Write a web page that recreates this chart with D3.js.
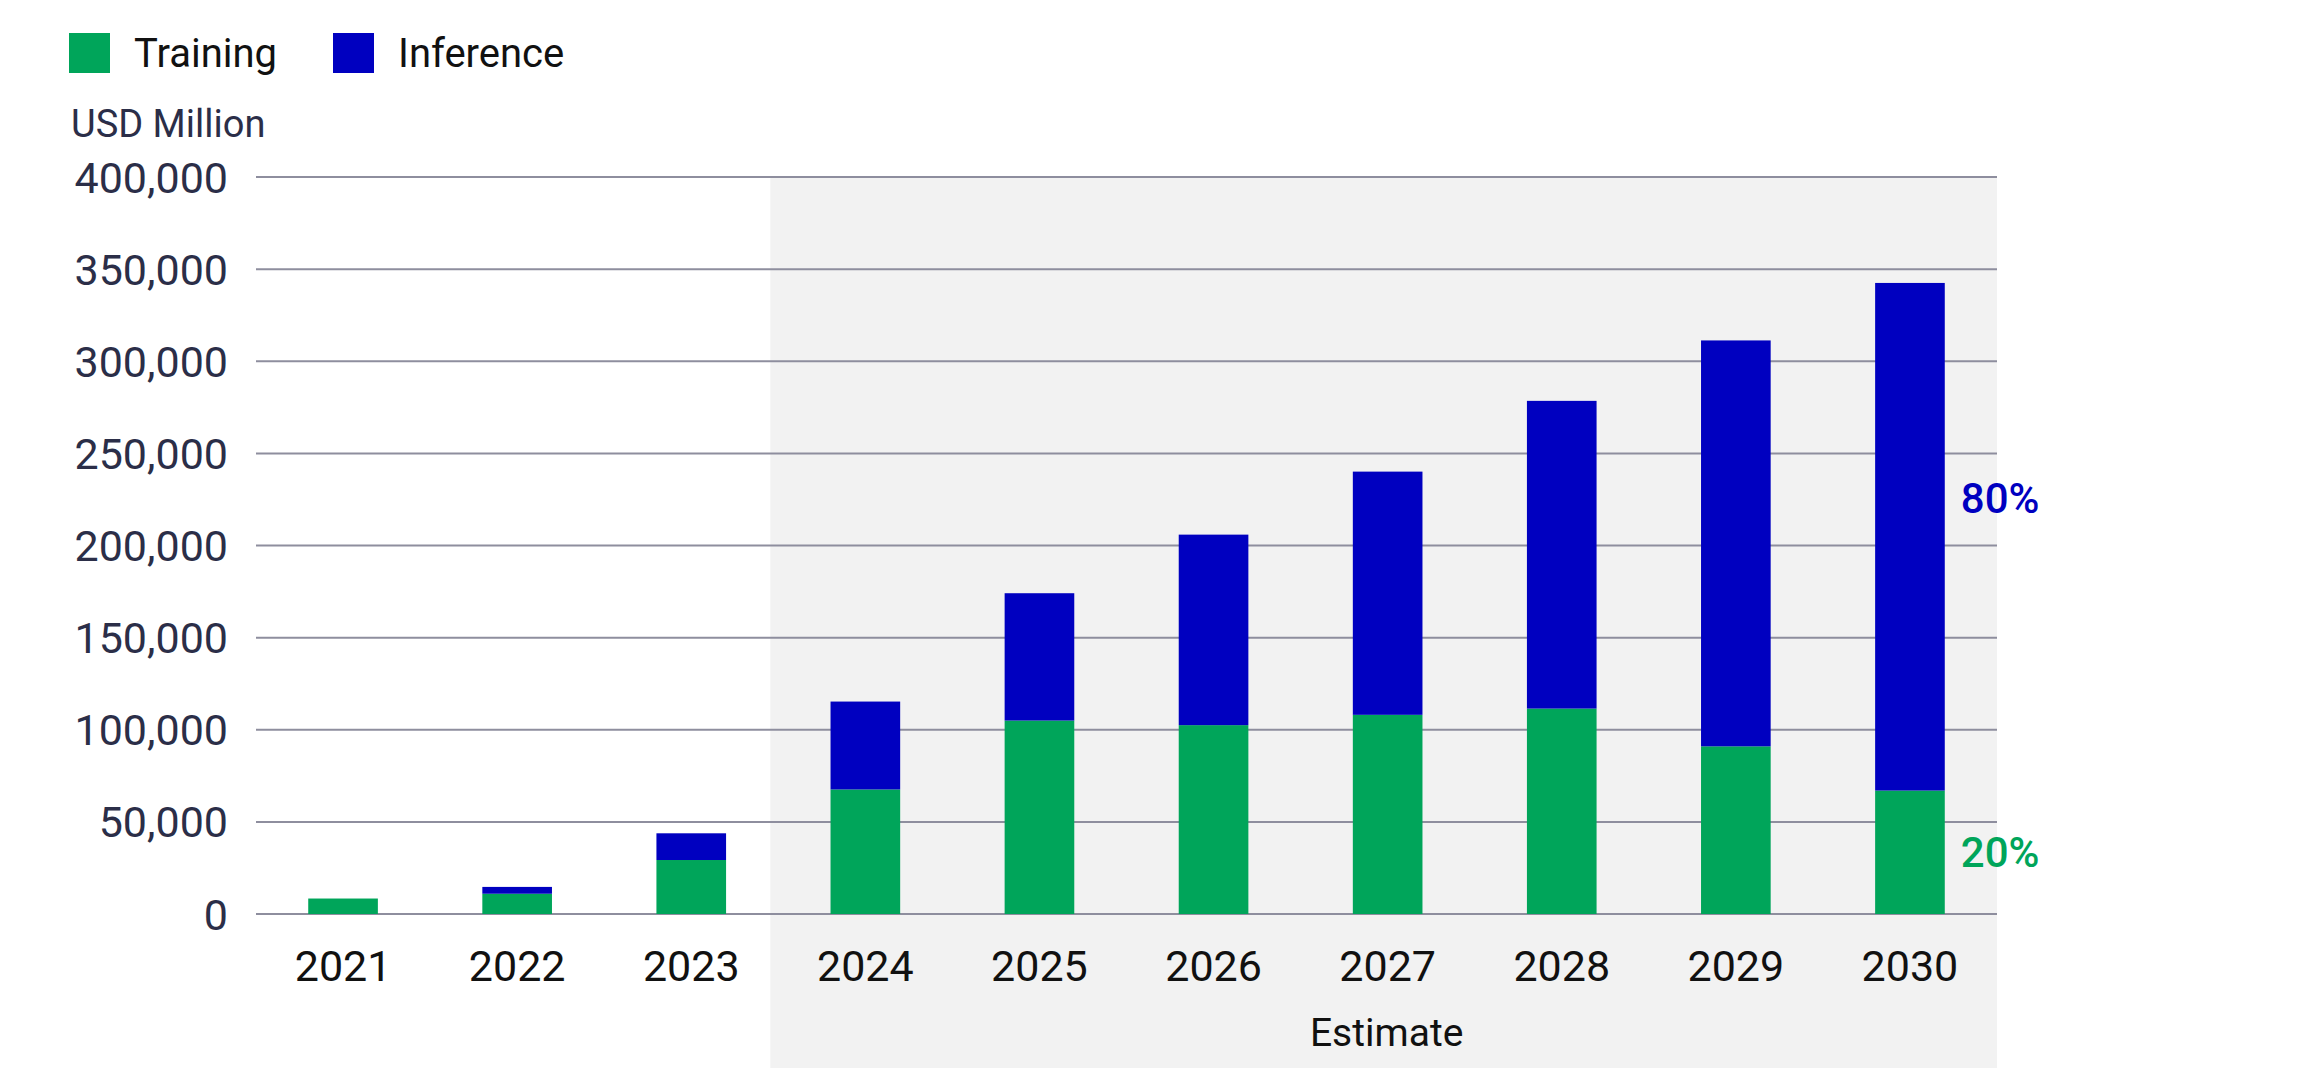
<!DOCTYPE html>
<html>
<head>
<meta charset="utf-8">
<script src="https://cdn.jsdelivr.net/npm/d3@7"></script>
<style>
html,body{margin:0;padding:0;background:#fff;}
svg{display:block;font-family:Roboto,"Noto Sans",sans-serif;}
</style>
</head>
<body>
<svg id="chart" width="2297" height="1083"></svg>
<script>
const years = ["2021","2022","2023","2024","2025","2026","2027","2028","2029","2030"];
const training = [8400, 11000, 29300, 67600, 105000, 102500, 108100, 111500, 91000, 67000];
const inference = [0, 3700, 14500, 47700, 69100, 103400, 132000, 167000, 220300, 275500];
const yTicks = [0, 50000, 100000, 150000, 200000, 250000, 300000, 350000, 400000];
const seriesNames = ["Training", "Inference"];
const colors = ["#00A55A", "#0000C0"];
const estimateStart = "2024";
const shareLabels = ["20%", "80%"];

const W = 2297, H = 1083;
const m = {left: 256, right: 300, top: 177, bottom: 169};
const svg = d3.select("#chart");

const x = d3.scaleBand().domain(years).range([m.left, W - m.right]).paddingInner(0.6).paddingOuter(0.3);
const y = d3.scaleLinear().domain([0, 400000]).range([H - m.bottom, m.top]);

// Estimate shading
const shadeX0 = x(estimateStart) - x.step() * x.paddingInner() / 2 - 8;
svg.append("rect")
  .attr("x", shadeX0).attr("y", y(400000))
  .attr("width", (W - m.right) - shadeX0)
  .attr("height", 1068 - y(400000))
  .attr("fill", "#f2f2f2");

// gridlines
svg.append("g").selectAll("line").data(yTicks).join("line")
  .attr("x1", m.left).attr("x2", W - m.right)
  .attr("y1", d => y(d)).attr("y2", d => y(d))
  .attr("stroke", "#8e8e9e").attr("stroke-width", 2);

// y axis labels
const yAxis = d3.axisLeft(y).tickValues(yTicks).tickSize(0).tickPadding(0)
  .tickFormat(d3.format(","));
const gy = svg.append("g").attr("transform", `translate(${m.left - 28},0)`).call(yAxis);
gy.select(".domain").remove();
gy.selectAll("text").attr("font-size", 43).attr("fill", "#2b2e48")
  .attr("font-family", "Roboto, 'Noto Sans', sans-serif").attr("dy", "0.35em");

// stacked bars
const rows = years.map((yr, i) => ({year: yr, Training: training[i], Inference: inference[i]}));
const stack = d3.stack().keys(seriesNames)(rows);
svg.append("g").selectAll("g").data(stack).join("g")
  .attr("fill", (d, i) => colors[i])
  .selectAll("rect").data(d => d.filter(p => p[1] > p[0])).join("rect")
  .attr("x", d => x(d.data.year))
  .attr("width", x.bandwidth())
  .attr("y", d => y(d[1]))
  .attr("height", d => y(d[0]) - y(d[1]));

// x axis labels
const xAxis = d3.axisBottom(x).tickSize(0).tickPadding(0);
const gx = svg.append("g").attr("transform", `translate(0,${y(0)})`).call(xAxis);
gx.select(".domain").remove();
gx.selectAll("text").attr("font-size", 43).attr("fill", "#111")
  .attr("font-family", "Roboto, 'Noto Sans', sans-serif")
  .attr("dy", null).attr("y", 67);

// Estimate label
svg.append("text")
  .attr("x", (shadeX0 + (W - m.right)) / 2 + 3).attr("y", 1046)
  .attr("text-anchor", "middle").attr("font-size", 39).attr("fill", "#111")
  .text("Estimate");

// unit label
svg.append("text").attr("x", 71).attr("y", 137)
  .attr("font-size", 38).attr("fill", "#2b2e48").text("USD Million");

// legend
const leg = svg.append("g");
const legX = [69, 333];
seriesNames.forEach((n, i) => {
  leg.append("rect").attr("x", legX[i]).attr("y", 33).attr("width", 41).attr("height", 40).attr("fill", colors[i]);
  leg.append("text").attr("x", legX[i] + 65).attr("y", 67).attr("font-size", 40).attr("fill", "#111").text(n);
});

// share labels for last bar
const last = years.length - 1;
const lastX = x(years[last]) + x.bandwidth() + 16;
svg.append("text").attr("x", lastX).attr("y", y(25400))
  .attr("font-size", 42).attr("font-weight", 500).attr("fill", colors[0]).text(shareLabels[0]);
svg.append("text").attr("x", lastX).attr("y", y(217400))
  .attr("font-size", 42).attr("font-weight", 500).attr("fill", colors[1]).text(shareLabels[1]);
</script>
</body>
</html>
